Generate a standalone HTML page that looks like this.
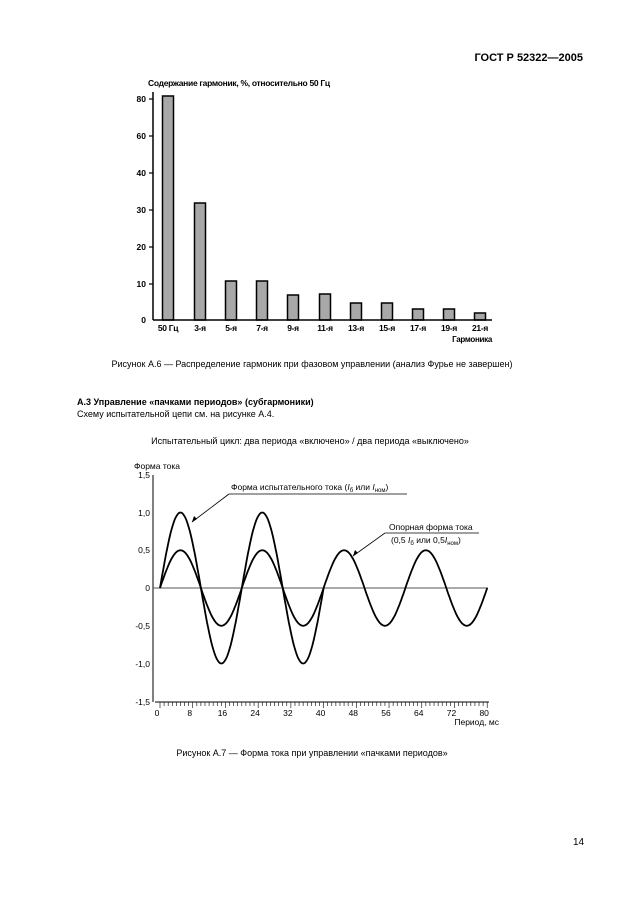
<!DOCTYPE html>
<html><head><meta charset="utf-8"><style>
html,body{margin:0;padding:0;background:#fff;}
svg{display:block;font-family:"Liberation Sans",Arial,sans-serif;}
</style></head><body>
<svg id="s" width="630" height="914" viewBox="0 0 630 914" xmlns="http://www.w3.org/2000/svg">
<text x="583" y="61" font-size="11" font-weight="bold" text-anchor="end">ГОСТ Р 52322—2005</text>
<!-- bar chart -->
<text x="148" y="86" font-size="8.5" font-weight="bold" letter-spacing="-0.3">Содержание гармоник, %, относительно 50 Гц</text>
<g id="bars"></g>
<line x1="153" y1="92" x2="153" y2="320" stroke="#000" stroke-width="1.5"/>
<line x1="153" y1="320" x2="492" y2="320" stroke="#000" stroke-width="1.5"/>
<g stroke="#000" stroke-width="1.2">
<line x1="149" y1="99" x2="153" y2="99"/><line x1="149" y1="136" x2="153" y2="136"/><line x1="149" y1="173" x2="153" y2="173"/>
<line x1="149" y1="210" x2="153" y2="210"/><line x1="149" y1="247" x2="153" y2="247"/><line x1="149" y1="284" x2="153" y2="284"/>
</g>
<g font-size="8.5" font-weight="bold" text-anchor="end">
<text x="146" y="102">80</text><text x="146" y="139">60</text><text x="146" y="176">40</text>
<text x="146" y="213">30</text><text x="146" y="250">20</text><text x="146" y="287">10</text><text x="146" y="323">0</text>
</g>
<text x="492" y="342" font-size="8" font-weight="bold" text-anchor="end" letter-spacing="-0.3">Гармоника</text>
<text x="312" y="367" font-size="9" text-anchor="middle">Рисунок А.6 — Распределение гармоник при фазовом управлении (анализ Фурье не завершен)</text>
<text x="77" y="405" font-size="9" font-weight="bold">А.3  Управление «пачками периодов» (субгармоники)</text>
<text x="77" y="417" font-size="9">Схему испытательной цепи см. на рисунке А.4.</text>
<text x="310" y="444" font-size="9" text-anchor="middle">Испытательный цикл: два периода «включено» / два периода «выключено»</text>
<!-- wave chart -->
<text x="134" y="469" font-size="8.5">Форма тока</text>
<line x1="153" y1="475" x2="153" y2="702" stroke="#000" stroke-width="1"/>
<line x1="153" y1="588" x2="488" y2="588" stroke="#555" stroke-width="1"/>
<line x1="155" y1="702" x2="489" y2="702" stroke="#000" stroke-width="1"/>
<g font-size="8.5" text-anchor="end">
<text x="150" y="478">1,5</text><text x="150" y="516">1,0</text><text x="150" y="553">0,5</text>
<text x="150" y="591">0</text><text x="150" y="629">-0,5</text><text x="150" y="667">-1,0</text><text x="150" y="705">-1,5</text>
</g>
<g id="ticks" stroke="#000" stroke-width="0.6"></g>
<g id="xl" font-size="8.5" text-anchor="middle"></g>
<text x="499" y="725" font-size="8.5" text-anchor="end">Период, мс</text>
<path id="big" fill="none" stroke="#000" stroke-width="1.8"/>
<path id="small" fill="none" stroke="#000" stroke-width="1.8"/>
<text x="231" y="490" font-size="8.5">Форма испытательного тока (<tspan font-style="italic">I</tspan><tspan font-size="6" dy="2">б</tspan><tspan dy="-2"> или </tspan><tspan font-style="italic">I</tspan><tspan font-size="6" dy="2">ном</tspan><tspan dy="-2">)</tspan></text>
<line x1="229" y1="494" x2="407" y2="494" stroke="#000" stroke-width="0.8"/>
<line x1="229" y1="494" x2="192" y2="522" stroke="#000" stroke-width="0.8"/>
<path d="M192 522 l2 -6 l3 3 z" fill="#000"/>
<text x="389" y="530" font-size="8.5">Опорная форма тока</text>
<line x1="385" y1="533" x2="479" y2="533" stroke="#000" stroke-width="0.8"/>
<text x="391" y="543" font-size="8.5">(0,5 <tspan font-style="italic">I</tspan><tspan font-size="6" dy="2">б</tspan><tspan dy="-2"> или 0,5</tspan><tspan font-style="italic">I</tspan><tspan font-size="6" dy="2">ном</tspan><tspan dy="-2">)</tspan></text>
<line x1="385" y1="533" x2="353" y2="556" stroke="#000" stroke-width="0.8"/>
<path d="M353 556 l2 -6 l3 3 z" fill="#000"/>
<text x="312" y="756" font-size="9" text-anchor="middle">Рисунок А.7 — Форма тока при управлении «пачками периодов»</text>
<text x="573" y="845" font-size="10">14</text>
</svg>
<script>
var NS="http://www.w3.org/2000/svg";
function el(p,t,a,txt){var e=document.createElementNS(NS,t);for(var k in a)e.setAttribute(k,a[k]);if(txt!==undefined)e.textContent=txt;p.appendChild(e);return e;}
var bars=document.getElementById('bars');
var cx=[168,200,231,262,293,325,356,387,418,449,480];
var top_=[96,203,281,281,295,294,303,303,309,309,313];
var lb=['50 Гц','3-я','5-я','7-я','9-я','11-я','13-я','15-я','17-я','19-я','21-я'];
for(var i=0;i<11;i++){var h=320-top_[i];
el(bars,'rect',{x:cx[i]-5.5,y:top_[i],width:11,height:h,fill:'#a8a8a8',stroke:'#000','stroke-width':1.5});
el(bars,'text',{x:cx[i],y:331,'font-size':8.5,'font-weight':'bold','text-anchor':'middle','letter-spacing':'-0.3'},lb[i]);}
var x0=160,sx=4.09,y0=588,sy=75.5;
var tk=document.getElementById('ticks'),xl=document.getElementById('xl');
for(var t=0;t<=80;t++){var x=x0+t*sx;el(tk,'line',{x1:x,y1:702,x2:x,y2:(t%8==0?708:706)});
if(t%8==0)el(xl,'text',{x:x-3,y:716},''+t);}
function path(A,T){var d='';for(var t=0;t<=T;t+=0.25){var x=x0+t*sx,y=y0-A*Math.sin(2*Math.PI*t/20)*sy;d+=(t==0?'M':'L')+x.toFixed(1)+' '+y.toFixed(1);}return d;}
document.getElementById('big').setAttribute('d',path(1,40));
document.getElementById('small').setAttribute('d',path(0.5,80));
</script>
</body></html>
